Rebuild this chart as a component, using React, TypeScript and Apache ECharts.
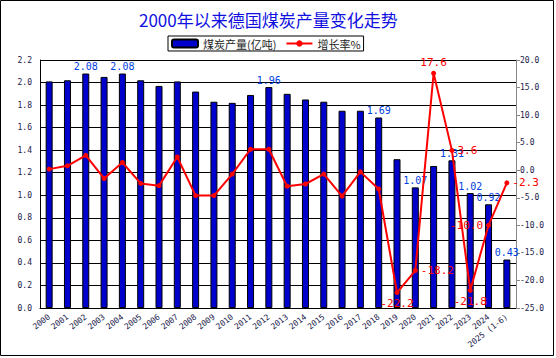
import React, { useEffect, useRef } from 'react';
import * as echarts from 'echarts';

const years = ['2000','2001','2002','2003','2004','2005','2006','2007','2008','2009','2010','2011','2012','2013','2014','2015','2016','2017','2018','2019','2020','2021','2022','2023','2024','2025 (1-6)'];
const output = [2.01,2.02,2.08,2.05,2.08,2.02,1.97,2.01,1.92,1.83,1.82,1.89,1.96,1.90,1.85,1.83,1.75,1.75,1.69,1.32,1.07,1.26,1.31,1.02,0.92,0.43];
const growth = [0.2,0.8,2.7,-1.5,1.4,-2.4,-2.8,2.4,-4.6,-4.6,-0.7,3.8,3.8,-2.9,-2.5,-0.7,-4.7,-0.3,-3.4,-22.2,-18.2,17.6,3.6,-21.8,-10.0,-2.3];
const barLabelYears = ['2002','2004','2012','2018','2020','2022','2023','2024','2025 (1-6)'];
const lineLabelPos: Record<string, string> = {
  '2019': 'bottom', '2020': 'right', '2021': 'top', '2022': 'right',
  '2023': 'bottom', '2024': 'left', '2025 (1-6)': 'right',
};

const mono = 'DejaVu Sans Mono';

export default function App() {
  const ref = useRef<HTMLDivElement>(null);
  useEffect(() => {
    const chart = echarts.init(ref.current!, null, { renderer: 'svg' });
    const barData = output.map((v, i) => ({
      value: v,
      label: { show: barLabelYears.includes(years[i]) },
    }));
    const lineData = growth.map((v, i) => {
      const pos = lineLabelPos[years[i]];
      return { value: v, label: pos ? { show: true, position: pos } : { show: false } };
    });
    chart.setOption({
      animation: false,
      title: {
        text: '2000年以来德国煤炭产量变化走势',
        left: 134,
        top: 6,
        textStyle: { fontSize: 17, fontWeight: 'normal', color: '#1010e0', fontFamily: 'Noto Sans CJK SC' },
      },
      legend: {
        left: 168,
        top: 36,
        padding: [2, 3],
        itemGap: 9,
        itemWidth: 26,
        itemHeight: 8,
        borderColor: '#000',
        borderWidth: 1,
        textStyle: { fontSize: 11, color: '#222', fontFamily: 'Noto Sans CJK SC' },
        data: ['煤炭产量(亿吨)', '增长率%'],
      },
      graphic: [
        { type: 'rect', shape: { x: 0.5, y: 0.5, width: 553, height: 355 }, style: { fill: 'none', stroke: '#000', lineWidth: 1 }, silent: true },
      ],
      grid: { left: 40, right: 40, top: 60, bottom: 50, containLabel: false, outerBoundsMode: 'none' },
      xAxis: {
        type: 'category',
        data: years,
        axisLine: { lineStyle: { color: '#000' } },
        axisTick: { inside: true, length: 4, lineStyle: { color: '#000' } },
        axisLabel: { interval: 0, rotate: 38, fontSize: 8, color: '#20204a', fontFamily: mono, margin: 8 },
      },
      yAxis: [
        {
          type: 'value', min: 0, max: 2.2, interval: 0.2,
          axisLine: { show: true, lineStyle: { color: '#000' } },
          axisTick: { show: false },
          splitLine: { lineStyle: { color: '#000', width: 1 } },
          axisLabel: { fontSize: 8, color: '#20204a', fontFamily: mono, formatter: (v: number) => v.toFixed(1), margin: 8 },
        },
        {
          type: 'value', min: -25, max: 20, interval: 5,
          axisLine: { show: true, lineStyle: { color: '#888' } },
          axisTick: { show: true, length: 4, lineStyle: { color: '#888' } },
          splitLine: { show: false },
          axisLabel: { fontSize: 8, color: '#20204a', fontFamily: mono, formatter: (v: number) => v.toFixed(1), margin: 4 },
        },
      ],
      series: [
        {
          name: '煤炭产量(亿吨)',
          type: 'bar',
          yAxisIndex: 0,
          barWidth: 7,
          itemStyle: { color: '#0000cc', borderColor: '#000', borderWidth: 1 },
          label: { position: 'top', color: '#0040e0', fontSize: 10, fontFamily: mono, distance: 2, formatter: (p: any) => Number(p.value).toFixed(2) },
          data: barData,
          z: 2,
        },
        {
          name: '增长率%',
          type: 'line',
          yAxisIndex: 1,
          symbol: 'circle',
          symbolSize: 5,
          lineStyle: { color: '#ff0000', width: 2 },
          itemStyle: { color: '#ff0000' },
          label: { color: '#ff0000', fontSize: 11, fontFamily: mono, distance: 3, formatter: (p: any) => Number(p.value).toFixed(1) },
          data: lineData,
          z: 3,
        },
      ],
    });
    return () => chart.dispose();
  }, []);
  return <div ref={ref} style={{ position: 'fixed', left: 0, top: 0, width: 556, height: 358, background: '#fff' }} />;
}
